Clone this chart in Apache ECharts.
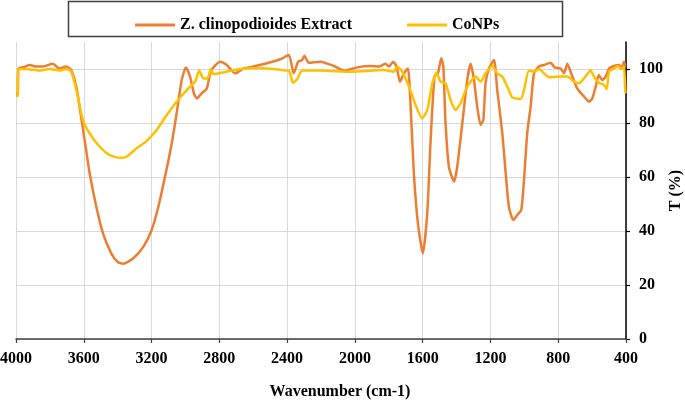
<!DOCTYPE html>
<html>
<head>
<meta charset="utf-8">
<script src="https://cdn.jsdelivr.net/npm/echarts@6/dist/echarts.min.js"></script>
<style>
html,body{margin:0;padding:0;background:#fff;}
#chart{width:685px;height:408px;}
</style>
</head>
<body>
<div id="chart"></div>
<script>
const seriesNames = ['Z. clinopodioides Extract', 'CoNPs'];
const xTicks = [4000, 3600, 3200, 2800, 2400, 2000, 1600, 1200, 800, 400];
const yTicks = [0, 20, 40, 60, 80, 100];

const extractWn = [4000,3990,3986,3950,3921,3881,3842,3783,3743,3704,3674,3644,3625,3595,3565,3526,3486,3437,3400,3368,3309,3249,3200,3160,3121,3081,3052,3022,2997,2973,2950,2933,2904,2874,2854,2835,2795,2756,2706,2657,2598,2519,2440,2390,2361,2335,2311,2298,2272,2203,2124,2064,1986,1908,1858,1819,1799,1774,1754,1734,1711,1687,1671,1652,1628,1599,1573,1553,1530,1510,1490,1478,1465,1445,1415,1396,1366,1337,1317,1297,1278,1258,1242,1229,1209,1179,1160,1130,1110,1091,1065,1042,1018,1002,983,963,943,914,884,845,821,786,766,746,727,688,648,618,599,579,560,540,520,500,471,441,422,412,402,400];
const extractT = [90.4,90.5,100,100.8,101.5,100.9,100.9,101.9,100.2,100.9,99.6,93.4,86,73.7,61.3,49,39,31.6,28.5,27.9,29.8,34.1,40.3,49,60,72.4,83.6,95.9,100.6,97.2,91,89.1,91,92.8,98.4,100.6,102.7,101.5,98.4,100.2,100.9,102.1,103.6,105.2,98.4,102.7,103.3,104.9,102.3,102.7,101.1,99.4,100.6,101.1,100.9,101.9,100.9,102.7,100.9,95.3,98.4,100.2,86,61.4,42.8,31.7,46.5,73.7,97.2,98.4,104,100.9,79.9,63.8,58.3,63.8,79.9,95.9,101.9,95.9,86,79.3,81.1,94.7,100.2,103.3,92.2,76.2,61.4,49,44.1,45.9,47.8,58.9,76.2,86,98.4,100.9,101.5,102.3,100.6,100.2,98.4,101.9,99,92.8,89.8,87.9,89.1,93.5,97.8,95.9,97.2,100.2,101.1,101.5,100.6,102.7,100.9,101];

const conpsWn = [4000,3990,3986,3941,3862,3802,3743,3704,3674,3644,3605,3565,3506,3447,3388,3348,3289,3230,3170,3111,3052,2993,2943,2919,2894,2870,2850,2835,2756,2677,2558,2400,2385,2365,2341,2311,2203,2025,1829,1770,1750,1721,1681,1642,1603,1573,1543,1518,1494,1465,1435,1406,1376,1337,1288,1258,1229,1189,1160,1130,1101,1071,1022,1002,973,943,914,884,855,786,746,707,678,648,609,589,560,530,514,500,471,447,427,412,404,400];
const conpsT = [90,90,100,100,99.4,100,99.4,100,99,92.2,81.1,76.1,71.2,68.1,67.1,67.5,70.6,73.3,77.4,82.9,87.9,92.2,95.3,99.4,96.5,96.5,100,98.1,99,100,100.4,99.4,99,94.9,96.2,99.4,99.4,99,99.6,99,100.9,99,93.5,86.7,81.7,84.8,94.7,98.6,95.3,94.7,88.5,84.8,87.3,93.5,97.2,95.3,98.4,101.1,98.4,97.2,93.5,89.5,88.9,92.2,99.4,99,100,98.4,96.9,97.2,97.2,95.3,94.7,96.5,99.4,97.2,94.9,94.1,92.5,99,100.2,101.1,100,100.9,91.6,91];

function zip(a, b) { return a.map((v, i) => [v, b[i]]); }

const chart = echarts.init(document.getElementById('chart'));
const font = '"Liberation Serif", "Times New Roman", serif';
chart.setOption({
  animation: false,
  backgroundColor: '#fff',
  textStyle: { fontFamily: font },
  grid: { left: 16, right: 59, top: 42, bottom: 69, containLabel: false, outerBoundsMode: 'none' },
  graphic: [{
    type: 'rect',
    shape: { x: 68.5, y: 1.5, width: 494, height: 35 },
    style: { fill: 'none', stroke: '#404040', lineWidth: 1.5 },
    z: 0
  }],
  legend: {
    data: seriesNames,
    left: 130, top: 12,
    icon: 'rect', itemWidth: 40, itemHeight: 3, itemGap: 55,
    textStyle: { fontFamily: font, fontWeight: 'bold', fontSize: 16, color: '#000', padding: [0, 0, 0, 0] }
  },
  xAxis: {
    type: 'value', inverse: true, min: 400, max: 4000, interval: 400,
    name: 'Wavenumber (cm-1)', nameLocation: 'middle', nameGap: 45,
    nameTextStyle: { fontFamily: font, fontWeight: 'bold', fontSize: 16, color: '#000', padding: [0, 0, 0, 38] },
    axisLine: { show: true, lineStyle: { color: '#404040', width: 1.5 } },
    axisTick: { show: true, length: 4, lineStyle: { color: '#404040', width: 1.2 } },
    axisLabel: { margin: 12, fontFamily: font, fontWeight: 'bold', fontSize: 16, color: '#000', formatter: v => String(v) },
    splitLine: { show: true, lineStyle: { color: '#d9d9d9', width: 1 } }
  },
  yAxis: {
    type: 'value', position: 'right', min: 0, max: 110, interval: 20,
    name: 'T (%)', nameLocation: 'middle', nameGap: 42, nameRotate: 90, nameMoveOverlap: false,
    nameTextStyle: { fontFamily: font, fontWeight: 'bold', fontSize: 16, color: '#000' },
    axisLine: { show: true, lineStyle: { color: '#000', width: 1.5 } },
    axisTick: { show: true, length: 4, lineStyle: { color: '#000', width: 1.2 }, customValues: yTicks },
    axisLabel: { margin: 13, fontFamily: font, fontWeight: 'bold', fontSize: 16, color: '#000', customValues: yTicks },
    splitLine: { show: true, lineStyle: { color: '#d9d9d9', width: 1 } }
  },
  series: [
    {
      name: seriesNames[0], type: 'line', data: zip(extractWn, extractT),
      showSymbol: false, smooth: 0.2, lineStyle: { color: '#ED7D31', width: 2.5 }, itemStyle: { color: '#ED7D31' }
    },
    {
      name: seriesNames[1], type: 'line', data: zip(conpsWn, conpsT),
      showSymbol: false, smooth: 0.2, lineStyle: { color: '#FFC000', width: 2.5 }, itemStyle: { color: '#FFC000' }
    }
  ]
});
</script>
</body>
</html>
